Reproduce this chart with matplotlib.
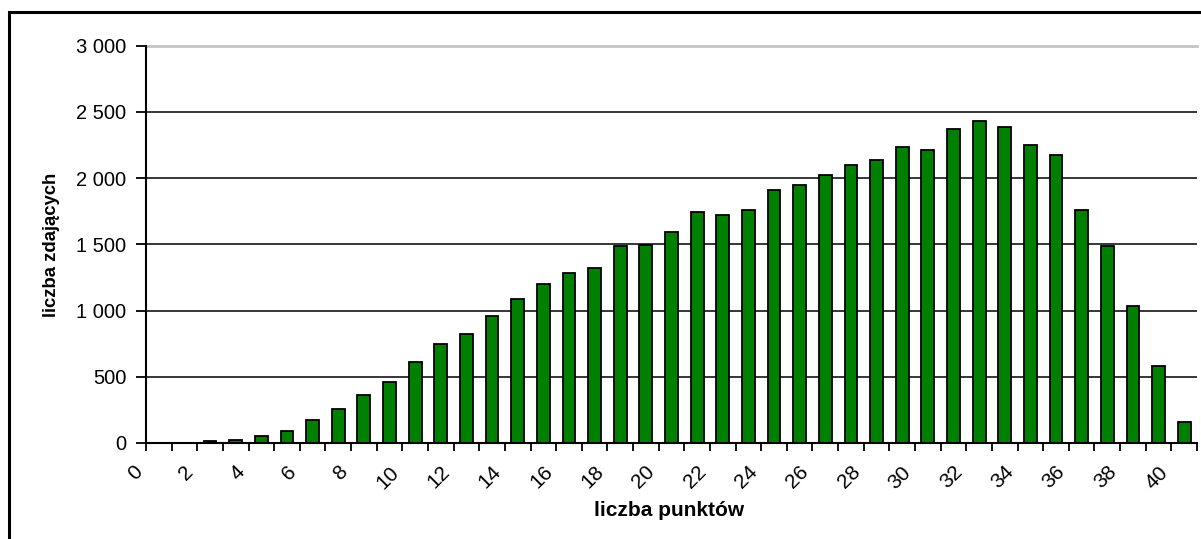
import matplotlib
matplotlib.use("Agg")
import matplotlib.pyplot as plt
from matplotlib.patches import Rectangle
from matplotlib.ticker import FuncFormatter

plt.rcParams['font.family'] = ['Liberation Sans', 'DejaVu Sans']

points = list(range(0, 41))
counts = [0, 0, 12, 25, 50, 88, 175, 260, 360, 460,
          609, 748, 821, 959, 1085, 1198, 1284, 1322, 1485, 1498,
          1596, 1745, 1722, 1762, 1911, 1946, 2022, 2097, 2135, 2233,
          2211, 2372, 2434, 2384, 2248, 2173, 1762, 1485, 1035, 584, 159]
y_ticks = [0, 500, 1000, 1500, 2000, 2500, 3000]
x_label = "liczba punktów"
y_label = "liczba zdających"

W, H = 1201, 539
fig = plt.figure(figsize=(W / 100, H / 100), dpi=100)
ax = fig.add_axes([146 / W, 1 - 443 / H, (1197 - 146) / W, (443 - 45.7) / H])

xpos = [p + 0.5 for p in points]
ax.bar(xpos, counts, width=0.5, color='#008000', edgecolor='black', linewidth=1.3, zorder=3)

ax.set_xlim(0, len(points))
ax.set_ylim(0, 3000)

for yv in y_ticks[1:-1]:
    ax.axhline(yv, color='black', linewidth=1.1, zorder=1)
ax.axhline(3000, color='#c4c4c4', linewidth=2.0, zorder=1, clip_on=False)

ax.set_yticks(y_ticks)
ax.yaxis.set_major_formatter(FuncFormatter(lambda v, p: f"{int(v):,}".replace(",", " ")))
ax.set_xticks(range(0, len(points) + 1))
ax.set_xticklabels([str(i) if (i % 2 == 0 and i <= 40) else '' for i in range(0, len(points) + 1)],
                   rotation=45, ha='right', va='top')

ax.tick_params(axis='y', direction='out', length=7, width=1.3, pad=7, labelsize=14.5)
ax.tick_params(axis='x', direction='out', length=6, width=1.3, pad=8, labelsize=15)

for s in ['top', 'right']:
    ax.spines[s].set_visible(False)
for s in ['left', 'bottom']:
    ax.spines[s].set_linewidth(1.5)
    ax.spines[s].set_color('black')
    ax.spines[s].set_zorder(4)

fig.text(669 / W, 1 - 510 / H, x_label, ha='center', va='center', fontsize=15, fontweight='bold')
fig.text(52 / W, 1 - 245 / H, y_label, ha='center', va='center', rotation=90, fontsize=13.3, fontweight='bold')

fig.patches.append(Rectangle((8.5 / W, -0.1), 1.2, (1 - 12.3 / H) + 0.1, transform=fig.transFigure,
                             fill=False, edgecolor='black', linewidth=2.2))

fig.savefig("out.png", dpi=100)
